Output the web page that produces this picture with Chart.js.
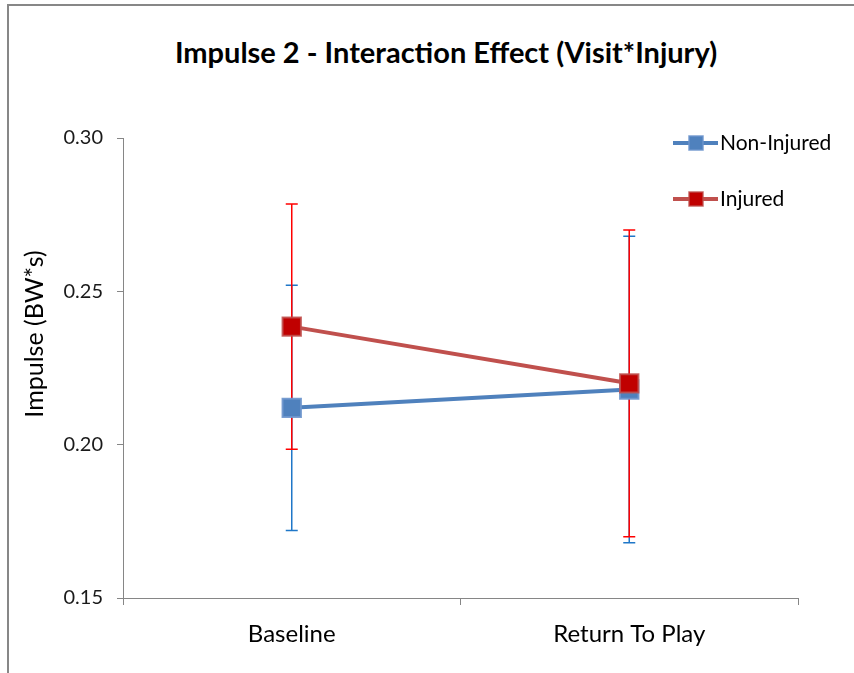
<!DOCTYPE html>
<html lang="en">
<head>
    <meta charset="UTF-8">
    <title>Impulse 2 - Interaction Effect</title>
    <style>
        body {
            margin: 0;
            padding: 0;
            background-color: #fff;
            overflow: hidden;
            font-family: Lato, Arial, sans-serif;
        }
        #frame {
            position: absolute;
            left: 7px;
            top: 4px;
            width: 874px;
            height: 720px;
            border: 2px solid #878787;
            background-color: #fff;
        }
        #title {
            position: absolute;
            top: 31px;
            left: 0;
            width: 100%;
            text-align: center;
            font-weight: bold;
            font-size: 29px;
            line-height: 30px;
            color: #000;
        }
        canvas {
            position: absolute;
            left: 0;
            top: 0;
        }
    </style>
</head>
<body>

<div id="frame">
    <div id="title">Impulse 2 - Interaction Effect (Visit*Injury)</div>
    <canvas id="impulseChart" width="874" height="700"></canvas>
</div>

<script src="https://cdn.jsdelivr.net/npm/chart.js"></script>
<script>
    const visits = ['Baseline', 'Return To Play'];
    const nonInjured = [0.212, 0.218];
    const nonInjuredErr = [0.040, 0.050];
    const injured = [0.2385, 0.220];
    const injuredErr = [0.040, 0.050];
    const yTicks = [0.15, 0.20, 0.25, 0.30];
    const yTitle = 'Impulse (BW*s)';

    // error bars drawn under the lines, blue first then red
    const errorBars = {
        id: 'errorBars',
        beforeDatasetsDraw(chart) {
            const ctx = chart.ctx;
            const y = chart.scales.y;
            [1, 0].forEach(i => {
                const ds = chart.data.datasets[i];
                const meta = chart.getDatasetMeta(i);
                ctx.save();
                ctx.strokeStyle = ds.errorColor;
                ctx.lineWidth = 1.5;
                meta.data.forEach((pt, j) => {
                    const top = y.getPixelForValue(ds.data[j] + ds.errors[j]);
                    const bot = y.getPixelForValue(ds.data[j] - ds.errors[j]);
                    ctx.beginPath();
                    ctx.moveTo(pt.x, top);
                    ctx.lineTo(pt.x, bot);
                    ctx.moveTo(pt.x - 6, top);
                    ctx.lineTo(pt.x + 6, top);
                    ctx.moveTo(pt.x - 6, bot);
                    ctx.lineTo(pt.x + 6, bot);
                    ctx.stroke();
                });
                ctx.restore();
            });
        }
    };

    // y axis title and the legend, placed like the Excel chart
    const extras = {
        id: 'extras',
        afterDraw(chart) {
            const ctx = chart.ctx;
            ctx.save();
            ctx.fillStyle = '#000';
            ctx.font = '25px Lato, Arial, sans-serif';
            ctx.textAlign = 'center';
            ctx.textBaseline = 'middle';
            ctx.translate(26, 328);
            ctx.rotate(-Math.PI / 2);
            ctx.fillText(yTitle, 0, 0);
            ctx.restore();

            const items = [chart.data.datasets[1], chart.data.datasets[0]];
            items.forEach((ds, i) => {
                const yy = 137 + i * 56;
                ctx.save();
                ctx.strokeStyle = ds.borderColor;
                ctx.lineWidth = 4;
                ctx.beginPath();
                ctx.moveTo(664, yy);
                ctx.lineTo(709, yy);
                ctx.stroke();
                ctx.fillStyle = ds.pointBackgroundColor;
                ctx.strokeStyle = ds.pointBorderColor;
                ctx.lineWidth = 1.5;
                ctx.fillRect(680, yy - 7, 14, 14);
                ctx.strokeRect(680, yy - 7, 14, 14);
                ctx.fillStyle = '#000';
                ctx.font = '21px Lato, Arial, sans-serif';
                ctx.textAlign = 'left';
                ctx.textBaseline = 'middle';
                ctx.fillText(ds.label, 711, yy);
                ctx.restore();
            });
        }
    };

    const ctx = document.getElementById('impulseChart').getContext('2d');
    const impulseChart = new Chart(ctx, {
        type: 'line',
        data: {
            labels: visits,
            datasets: [{
                label: 'Injured',
                data: injured,
                errors: injuredErr,
                errorColor: '#FF0000',
                borderColor: '#C0504D',
                borderWidth: 4,
                pointStyle: 'rect',
                pointRadius: 13,
                pointBackgroundColor: '#C00000',
                pointBorderColor: 'rgba(192, 80, 77, 0.85)',
                pointBorderWidth: 2,
                order: 0
            }, {
                label: 'Non-Injured',
                data: nonInjured,
                errors: nonInjuredErr,
                errorColor: '#1F77C8',
                borderColor: '#4F81BD',
                borderWidth: 4,
                pointStyle: 'rect',
                pointRadius: 13,
                pointBackgroundColor: '#4F81BD',
                pointBorderColor: 'rgba(110, 150, 205, 0.9)',
                pointBorderWidth: 2,
                order: 1
            }]
        },
        options: {
            responsive: false,
            animation: false,
            devicePixelRatio: 1,
            layout: {
                padding: { top: 132, right: 85, left: 0, bottom: 0 }
            },
            plugins: {
                legend: { display: false },
                title: { display: false },
                tooltip: { enabled: false }
            },
            scales: {
                x: {
                    offset: true,
                    afterFit(scale) { scale.height = 108; },
                    border: { color: '#868686', width: 1 },
                    grid: {
                        offset: true,
                        drawOnChartArea: false,
                        tickLength: 7,
                        tickColor: '#868686'
                    },
                    ticks: {
                        padding: 15,
                        color: '#000',
                        font: { family: 'Lato, Arial, sans-serif', size: 24 }
                    }
                },
                y: {
                    min: 0.15,
                    max: 0.30,
                    afterFit(scale) { scale.width = 114; },
                    afterBuildTicks(scale) {
                        scale.ticks = yTicks.map(v => ({ value: v }));
                    },
                    border: { color: '#868686', width: 1 },
                    grid: {
                        drawOnChartArea: false,
                        tickLength: 6,
                        tickColor: '#868686'
                    },
                    ticks: {
                        padding: 14,
                        color: '#1a1a1a',
                        font: { family: 'Lato, Arial, sans-serif', size: 20 },
                        callback: v => Number(v).toFixed(2)
                    }
                }
            }
        },
        plugins: [errorBars, extras]
    });
</script>

</body>
</html>
